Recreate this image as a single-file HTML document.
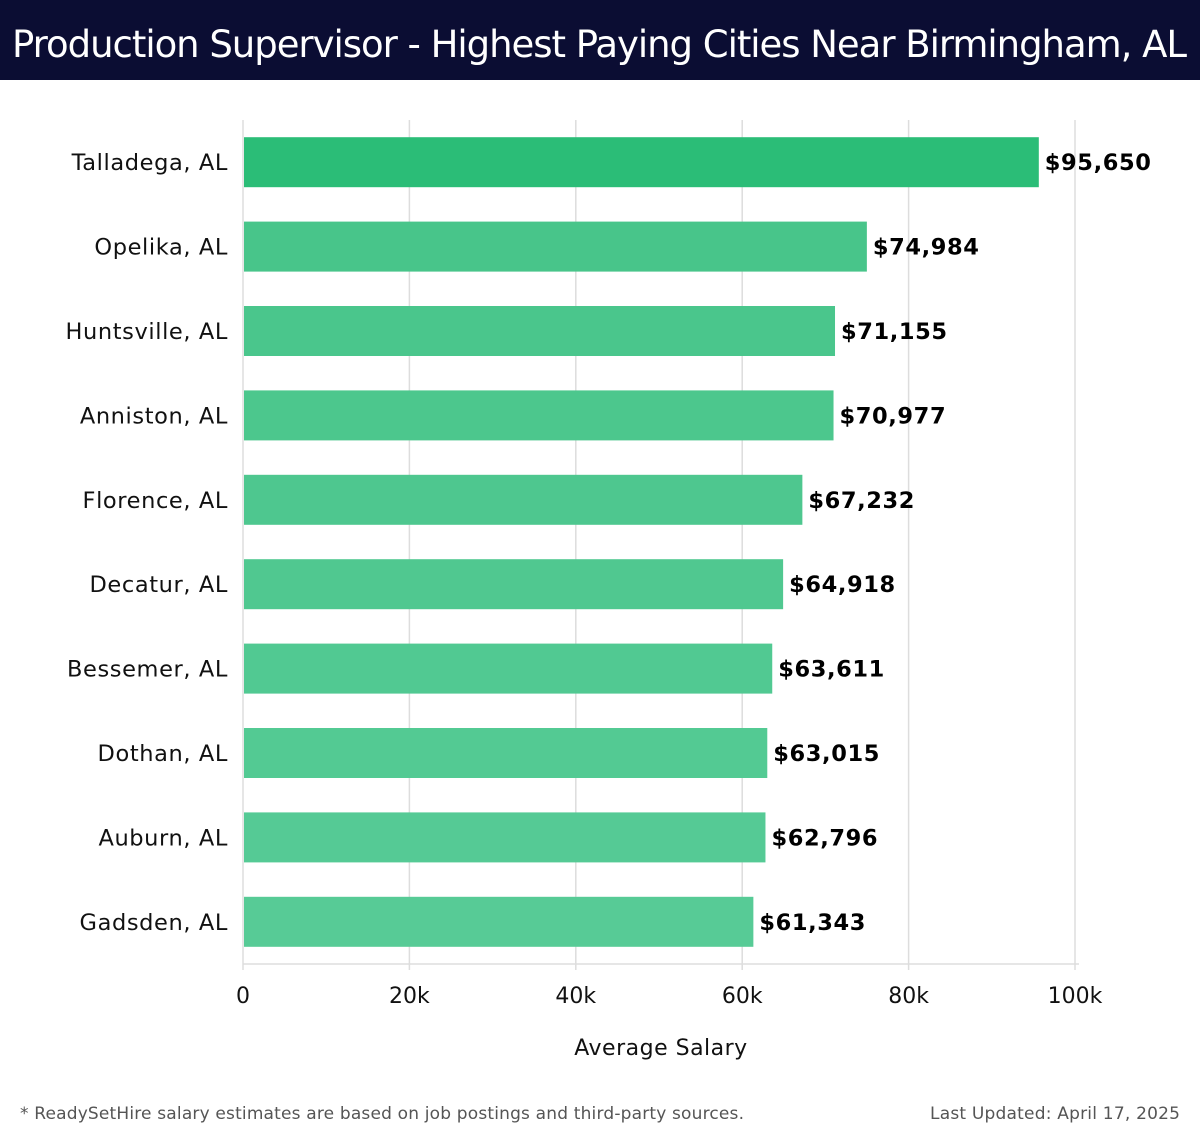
<!DOCTYPE html>
<html><head><meta charset="utf-8"><style>
html,body{margin:0;padding:0;background:#fff;width:1200px;height:1140px;overflow:hidden}
svg{display:block;font-family:"DejaVu Sans","Liberation Sans",sans-serif}
</style></head><body>
<svg id="chart" width="1200" height="1140">
<rect x="0" y="0" width="1200" height="80" fill="#0b0d33"/>
<text x="12" y="57" fill="#fff" font-size="37" textLength="1175" lengthAdjust="spacing">Production Supervisor - Highest Paying Cities Near Birmingham, AL</text>
<g id="grid"></g><g id="bars"></g><g id="axis"></g>
<text x="661" y="1055" text-anchor="middle" font-size="22" letter-spacing="0.5" fill="#111">Average Salary</text>
<text x="20" y="1119" font-size="17" fill="#555" textLength="724">* ReadySetHire salary estimates are based on job postings and third-party sources.</text>
<text x="1180" y="1119" text-anchor="end" font-size="17" fill="#555" textLength="250">Last Updated: April 17, 2025</text>
</svg>
<script>
const categories=["Talladega, AL","Opelika, AL","Huntsville, AL","Anniston, AL","Florence, AL","Decatur, AL","Bessemer, AL","Dothan, AL","Auburn, AL","Gadsden, AL"];
const salaries=[95650,74984,71155,70977,67232,64918,63611,63015,62796,61343];
const valueLabels=["$95,650","$74,984","$71,155","$70,977","$67,232","$64,918","$63,611","$63,015","$62,796","$61,343"];
const ticks=[0,20000,40000,60000,80000,100000];
const tickLabels=["0","20k","40k","60k","80k","100k"];
const NS="http://www.w3.org/2000/svg";
const x0=243,x1=1075,yTop=120,yBot=964,maxV=100000;
const xs=v=>x0+(v/maxV)*(x1-x0);
const band=(yBot-yTop)/categories.length;
const yc=i=>yTop+band*(i+0.5);
function mk(t,a,p){const e=document.createElementNS(NS,t);for(const k in a)e.setAttribute(k,a[k]);p.appendChild(e);return e;}
const grid=document.getElementById('grid'),bars=document.getElementById('bars'),axis=document.getElementById('axis');
ticks.forEach((t,i)=>{
  const l=mk('line',{x1:xs(t),x2:xs(t),y1:yTop,y2:yBot+6,stroke:'#dddddd','stroke-width':1.5},grid);
  
  
  const tx=mk('text',{x:xs(t),y:1003,'text-anchor':'middle','font-size':22,fill:'#111'},axis);
  tx.textContent=tickLabels[i];
  
  
});
const al=mk('line',{x1:x0,x2:x1+4,y1:yBot,y2:yBot,stroke:'#dddddd','stroke-width':1.5},axis);


function col(i){if(i===0)return '#2bbd77';const f=(i-1)/8;const a=[0x48,0xc5,0x8a],b=[0x57,0xcb,0x96];return 'rgb('+a.map((v,k)=>Math.round(v+(b[k]-v)*f)).join(',')+')';}
categories.forEach((c,i)=>{
  const y=yc(i);
  const r=mk('rect',{x:x0+1,y:y-25,width:xs(salaries[i])-x0-1,height:50,fill:col(i)},bars);
  
  
  const lb=mk('text',{x:228,y:y+8,'text-anchor':'end','font-size':22.5,'letter-spacing':0.6,fill:'#111'},bars);
  lb.textContent=c;
  
  
  const vl=mk('text',{x:xs(salaries[i])+6,y:y+8,'font-size':22.5,'letter-spacing':0.6,'font-weight':'bold',fill:'#000'},bars);
  vl.textContent=valueLabels[i];
  
  
});
</script>
</body></html>
